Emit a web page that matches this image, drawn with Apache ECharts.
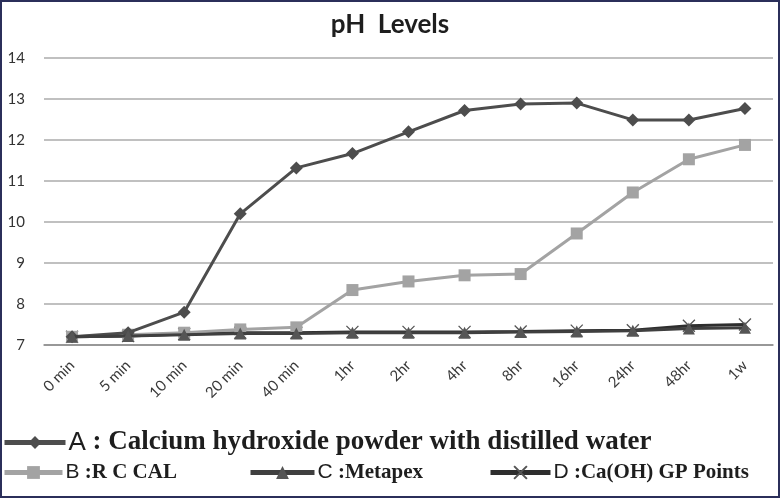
<!DOCTYPE html>
<html>
<head>
<meta charset="utf-8">
<script src="https://cdn.jsdelivr.net/npm/echarts@6/dist/echarts.min.js"></script>
<style>
html,body{margin:0;padding:0;background:#fff;}
#wrap{position:relative;width:780px;height:498px;}
#c{position:absolute;left:0;top:0;width:780px;height:498px;}
#frame{position:absolute;left:0;top:0;width:780px;height:498px;box-sizing:border-box;border:2px solid #2b2f5a;pointer-events:none;}
</style>
</head>
<body>
<div id="wrap"><div id="c"></div><div id="frame"></div></div>
<script>
var categories = ['0 min','5 min','10 min','20 min','40 min','1hr','2hr','4hr','8hr','16hr','24hr','48hr','1w'];
var seriesA = [7.2, 7.3, 7.8, 10.2, 11.32, 11.67, 12.2, 12.72, 12.88, 12.9, 12.49, 12.49, 12.77];
var seriesB = [7.2, 7.25, 7.3, 7.38, 7.43, 8.34, 8.55, 8.7, 8.73, 9.72, 10.72, 11.53, 11.88];
var seriesC = [7.2, 7.22, 7.25, 7.28, 7.28, 7.3, 7.3, 7.3, 7.32, 7.33, 7.35, 7.4, 7.42];
var seriesD = [7.2, 7.22, 7.27, 7.3, 7.3, 7.32, 7.32, 7.32, 7.33, 7.35, 7.36, 7.47, 7.5];
var nameA = 'A: Calcium hydroxide powder with distilled water';
var nameB = 'B :R C CAL';
var nameC = 'C :Metapex';
var nameD = 'D :Ca(OH) GP Points';

var chart = echarts.init(document.getElementById('c'));
var fmt = function (n) {
  var first = n.charAt(0);
  var rest = n.slice(1);
  if (first === 'A') rest = ' : Calcium hydroxide powder with distilled water';
  return '{a|' + first + '}{b|' + rest + '}';
};
var richBig = {
  a: {fontFamily: 'Liberation Sans', fontSize: 26, color: '#1e1e1e'},
  b: {fontFamily: 'Liberation Serif', fontWeight: 'bold', fontSize: 27, color: '#1e1e1e'}
};
var richSmall = {
  a: {fontFamily: 'Liberation Sans', fontSize: 21, color: '#1e1e1e'},
  b: {fontFamily: 'Liberation Serif', fontWeight: 'bold', fontSize: 21, color: '#1e1e1e'}
};
function mkLegend(name, left, top, rich, w) {
  return {
    data: [name], left: left, top: top, itemWidth: w, itemHeight: 16, itemGap: 0,
    padding: 0, selectedMode: false,
    lineStyle: {width: 5},
    formatter: fmt, textStyle: {rich: rich, padding: [0, 0, 0, -2]}
  };
}
var option = {
  backgroundColor: '#ffffff',
  animation: false,
  title: {
    text: 'pH  Levels', left: 'center', top: 7,
    textStyle: {fontFamily: 'Lato', fontWeight: 'bold', fontSize: 26, color: '#1e1e1e'}
  },
  legend: [
    mkLegend(nameA, 2, 429, richBig, 61),
    mkLegend(nameB, 2, 462, richSmall, 58),
    mkLegend(nameC, 248, 462, richSmall, 64),
    mkLegend(nameD, 488, 462, richSmall, 60)
  ],
  grid: {left: 44, right: 7, top: 58, bottom: 153},
  xAxis: {
    type: 'category', data: categories, boundaryGap: true,
    axisLine: {show: true, lineStyle: {color: '#8a8a8a', width: 1.5}},
    axisTick: {show: false},
    axisLabel: {rotate: 45, margin: 18, fontFamily: 'Lato', fontSize: 15, color: '#3a3a3a', interval: 0}
  },
  yAxis: {
    type: 'value', min: 7, max: 14, interval: 1,
    axisLine: {show: false}, axisTick: {show: false},
    axisLabel: {fontFamily: 'Lato', fontSize: 15, color: '#333', margin: 19},
    splitLine: {lineStyle: {color: '#ababab', width: 1.5}}
  },
  series: [
    {name: nameA, type: 'line', data: seriesA, symbol: 'diamond', symbolSize: 13,
     lineStyle: {color: '#4d4d4d', width: 3}, itemStyle: {color: '#4d4d4d'}, z: 4},
    {name: nameB, type: 'line', data: seriesB, symbol: 'rect', symbolSize: 12,
     lineStyle: {color: '#a3a3a3', width: 3}, itemStyle: {color: '#a3a3a3'}, z: 3},
    {name: nameD, type: 'line', data: seriesD, symbol: 'path://M0,0L10,10M10,0L0,10', symbolSize: 12,
     lineStyle: {color: '#2e2e2e', width: 3}, itemStyle: {color: 'none', borderColor: '#555', borderWidth: 1.3}, z: 2},
    {name: nameC, type: 'line', data: seriesC, symbol: 'triangle', symbolSize: 12,
     lineStyle: {color: '#3f3f3f', width: 3}, itemStyle: {color: '#555'}, z: 5}
  ]
};
chart.setOption(option);
</script>
</body>
</html>
